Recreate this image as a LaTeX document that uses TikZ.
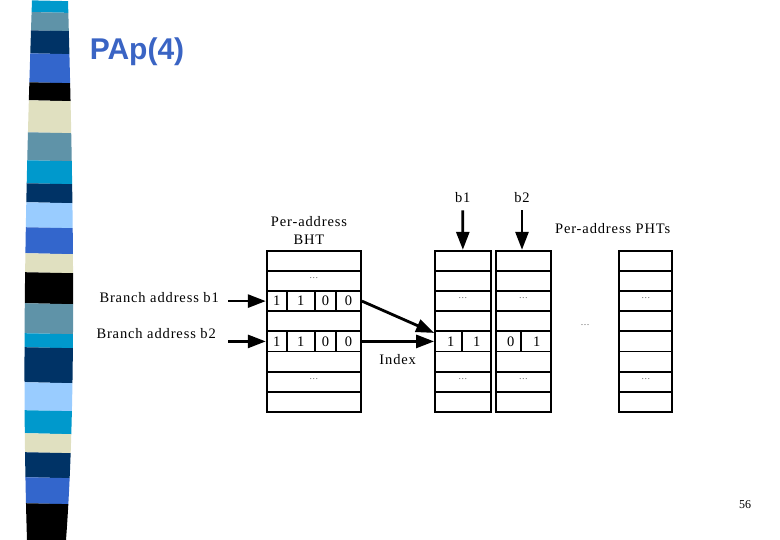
\documentclass[tikz,border=0pt]{standalone}
\usepackage{fontspec}
\setmainfont{Liberation Serif}
\newfontfamily\titlefont{Liberation Sans}
\newfontfamily\lblfont[LetterSpace=6]{Liberation Serif}
\usetikzlibrary{arrows.meta,calc}
\definecolor{stcyan}{HTML}{0099CC}
\definecolor{ststeel}{HTML}{5F93A8}
\definecolor{stnavy}{HTML}{003366}
\definecolor{stroyal}{HTML}{3366CC}
\definecolor{stbeige}{HTML}{E0E0C0}
\definecolor{stlight}{HTML}{99CCFF}
\definecolor{titleblue}{HTML}{3A64C4}
\begin{document}
\begin{tikzpicture}[x=1pt,y=-1pt,
  lbl/.style={font=\lblfont\fontsize{14.5}{18}\selectfont, inner sep=0pt},
  rowbox/.style={draw, line width=1.8pt, minimum height=20.16pt, inner sep=0pt},
  dotsl/.style={font=\fontsize{9}{9}\selectfont, text=black!70, inner sep=0pt},
  digit/.style={font=\fontsize{14.5}{14.5}\selectfont, inner sep=0pt},
  arr/.style={line width=2.8pt, -{Triangle[length=18pt,width=13pt]}},
  divider/.style={line width=1.8pt}]
\useasboundingbox (0,0) rectangle (780,540);
\fill[white] (0,0) rectangle (780,540);
% decorative stripe band
\begin{scope}
  \clip (32,0) .. controls (27,150) and (21,350) .. (27,540) -- (66,540)
        .. controls (78,380) and (72,150) .. (68,0) -- cycle;
  \foreach \ya/\yb/\c in {0/11.7/stcyan, 11.7/30/ststeel, 30/53/stnavy, 53/82/stroyal,
      82/100/black, 100/132/stbeige, 132/160/ststeel, 160/183/stcyan, 183/202/stnavy,
      202/227/stlight, 227/253/stroyal, 253/272/stbeige, 272/303/black, 303/333/ststeel,
      333/347/stcyan, 347/382/stnavy, 382/410/stlight, 410/433/stcyan, 433/452/stbeige,
      452/477/stnavy, 477/503/stroyal, 503/540/black}
    \fill[\c] (15,\ya) -- (85,\ya+1.5) -- (85,\yb+1.5) -- (15,\yb) -- cycle;
\end{scope}
% title
\node[font=\titlefont\bfseries\fontsize{30}{30}\selectfont, text=titleblue, inner sep=0pt] (title) at (137,52) {PAp(4)};
% tables
\foreach \t/\xl/\xr in {bht/266.7/361, pht1/435/490.7, pht2/496/550.7, pht3/619.3/672.3}{
  \foreach \i in {1,...,8}{
    \node[rowbox, minimum width={\xr-\xl}] (\t-\i) at ({(\xl+\xr)/2},{250.7+(\i-0.5)*20.16}) {};
  }
}
% BHT cells
\foreach \r in {3,5}{
  \foreach \x in {286.7,315,336}
    \draw[divider] (\x,0|-bht-\r.north) -- (\x,0|-bht-\r.south);
  \node[digit] at (276.7,0|-bht-\r) {1};
  \node[digit] at (300.8,0|-bht-\r) {1};
  \node[digit] at (325.5,0|-bht-\r) {0};
  \node[digit] at (348.5,0|-bht-\r) {0};
}
% PHT cells
\draw[divider] (461.7,0|-pht1-5.north) -- (461.7,0|-pht1-5.south);
\node[digit] at (450.7,0|-pht1-5) {1};
\node[digit] at (476.7,0|-pht1-5) {1};
\draw[divider] (520.7,0|-pht2-5.north) -- (520.7,0|-pht2-5.south);
\node[digit] at (510.7,0|-pht2-5) {0};
\node[digit] at (536.7,0|-pht2-5) {1};
% ellipses
\node[dotsl] at ([yshift=3pt]bht-2) {\ldots};
\node[dotsl] at ([yshift=3pt]bht-7) {\ldots};
\foreach \t in {pht1,pht2,pht3}{
  \node[dotsl] at ([yshift=3pt]\t-3) {\ldots};
  \node[dotsl] at ([yshift=3pt]\t-7) {\ldots};
}
\node[dotsl] (middots) at (585,325) {\ldots};
% labels
\node[lbl, align=center] (bhtlabel) at (309,230) {Per-address\\BHT};
\node[lbl] (phtlabel) at (612.7,229) {Per-address PHTs};
\node[lbl] (b1) at (462.7,198) {b1};
\node[lbl] (b2) at (522,198) {b2};
\node[lbl, anchor=east] (ba1) at (219,298) {Branch address b1};
\node[lbl, anchor=east] (ba2) at (216,334) {Branch address b2};
\node[lbl] (index) at (397.7,360) {Index};
\node[font=\fontsize{12}{12}\selectfont, inner sep=0pt] (pagenum) at (745,505) {56};
% arrows
\coordinate (ba1s) at (228,0|-bht-3.west);
\coordinate (ba2s) at (228,0|-bht-5.west);
\coordinate (idxend) at ($(pht1-5.west)+(0,-8.5)$);
\draw[arr] (ba1s) -- (bht-3.west);
\draw[arr] (ba2s) -- (bht-5.west);
\draw[arr] (bht-3.east) -- (idxend);
\draw[arr] (bht-5.east) -- (pht1-5.west);
\draw[arr, shorten <=7pt] (b1) -- (pht1-1.north);
\draw[arr, shorten <=7pt] (b2) -- (b2 |- pht2-1.north);
\end{tikzpicture}
\end{document}
